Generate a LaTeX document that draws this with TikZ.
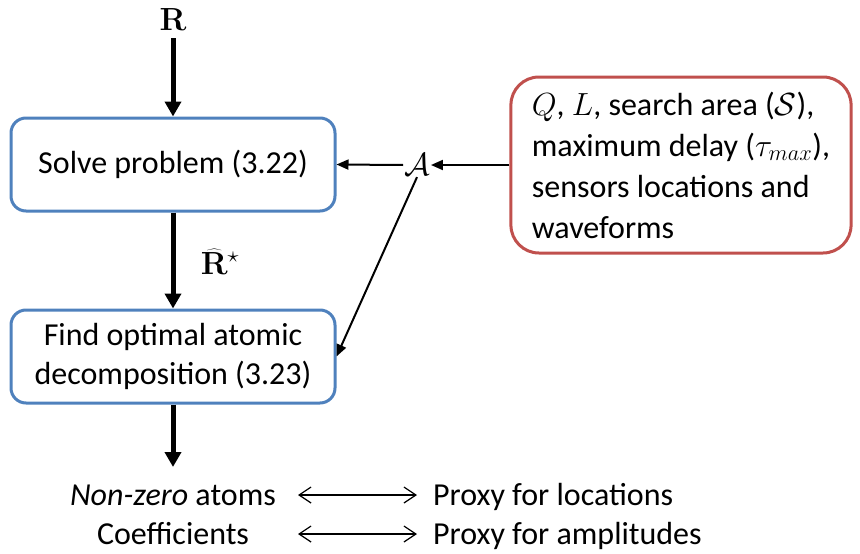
\documentclass[tikz,border=0pt]{standalone}
\usepackage{fix-cm}
\usepackage[no-math]{fontspec}
\setmainfont{Carlito}
\usetikzlibrary{arrows.meta}
\definecolor{boxblue}{RGB}{79,129,189}
\definecolor{boxred}{RGB}{192,80,77}
\begin{document}
\begin{tikzpicture}[x=1pt,y=-1pt,
  bluebox/.style={draw=boxblue, line width=3pt, rounded corners=15pt, minimum width=324pt, minimum height=93pt, align=center, font=\fontsize{32}{39}\selectfont, inner sep=0pt},
  redbox/.style={draw=boxred, line width=3pt, rounded corners=28pt, minimum height=176pt, align=left, inner xsep=21pt, font=\fontsize{32}{41}\selectfont},
  thickarrow/.style={line width=5pt, -{Triangle[length=15pt,width=16pt]}},
  thinarrow/.style={line width=2pt, -{Triangle[length=12pt,width=10pt]}},
  dblarrow/.style={line width=1.2pt, {Straight Barb[length=12pt,width=16pt]}-{Straight Barb[length=12pt,width=16pt]}},
  mathlabel/.style={font=\fontsize{32}{38}\selectfont, inner sep=1pt},
  plaintext/.style={font=\fontsize{32}{39}\selectfont, inner sep=0pt}
]
\useasboundingbox (0,0) rectangle (860,554);

\node[mathlabel] (R) at (173,20) {$\mathbf{R}$};
\node[bluebox] (solve) at (173,164.5) {Solve problem (3.22)};
\node[bluebox] (find) at (173,356.5) {Find optimal atomic\\decomposition (3.23)};
\node[mathlabel] (Rhat) at (220,262) {$\widehat{\mathbf{R}}^{\star}$};
\node[mathlabel] (A) at (417,165) {$\mathcal{A}$};
\node[redbox] (info) at (681,165) {$Q$, $L$, search area ($\mathcal{S}$),\\maximum delay ($\tau_{max}$),\\sensors locations and\\waveforms};
\coordinate (out) at (173,467);

\draw[thickarrow] (R.south) ++(0,6) -- (solve.north);
\draw[thickarrow] (solve.south) -- (find.north);
\draw[thickarrow] (find.south) -- (out);
\draw[thinarrow] (info.west) -- (A.east);
\draw[thinarrow] (A.west) -- (solve.east);
\draw[thinarrow] (A.south) -- (find.east);

\node[plaintext, anchor=base] (nz) at (173,505) {\textit{Non-zero} atoms};
\node[plaintext, anchor=base] (co) at (173,544) {Coefficients};
\node[plaintext, anchor=base west] (p1) at (433,505) {Proxy for locations};
\node[plaintext, anchor=base west] (p2) at (433,544) {Proxy for amplitudes};
\coordinate (l1) at (298,495);
\coordinate (r1) at (417,495);
\coordinate (l2) at (298,534);
\coordinate (r2) at (417,534);
\draw[dblarrow] (l1) -- (r1);
\draw[dblarrow] (l2) -- (r2);
\end{tikzpicture}
\end{document}
